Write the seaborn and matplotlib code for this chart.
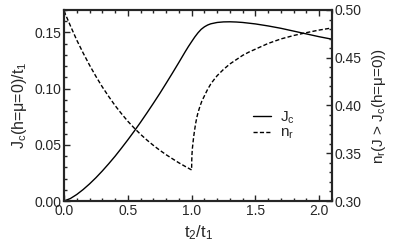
import numpy as np
import pandas as pd
import matplotlib
matplotlib.use("Agg")
import matplotlib.pyplot as plt
from matplotlib.ticker import MultipleLocator, FormatStrFormatter
from matplotlib.lines import Line2D
import seaborn as sns

# --- data ---
jc_x = [0.0, 0.05, 0.1, 0.15, 0.2, 0.25, 0.3, 0.35, 0.4, 0.45, 0.5, 0.55, 0.6,
        0.65, 0.7, 0.75, 0.8, 0.85, 0.9, 0.95, 0.975, 1.0, 1.025, 1.05, 1.075,
        1.1, 1.125, 1.15, 1.2, 1.25, 1.3, 1.35, 1.4, 1.5, 1.6, 1.7, 1.8, 1.9,
        2.0, 2.1]
jc_y = [0.0, 0.0022, 0.0058, 0.0102, 0.0152, 0.0207, 0.0267, 0.0331, 0.0398,
        0.0470, 0.0544, 0.0621, 0.0701, 0.0784, 0.0869, 0.0956, 0.1047, 0.1139,
        0.1233, 0.1329, 0.1375, 0.1418, 0.1460, 0.1497, 0.1528, 0.1550, 0.1566,
        0.1577, 0.1589, 0.1594, 0.1595, 0.1593, 0.1589, 0.1576, 0.1558, 0.1537,
        0.1512, 0.1487, 0.1462, 0.1440]

nr_x = [0.0, 0.05, 0.1, 0.15, 0.2, 0.25, 0.3, 0.35, 0.4, 0.45, 0.5, 0.55, 0.6,
        0.65, 0.7, 0.75, 0.8, 0.85, 0.9, 0.95, 1.0,
        1.001, 1.003, 1.006, 1.01, 1.015, 1.02, 1.03, 1.04, 1.05, 1.065, 1.08,
        1.1, 1.125, 1.15, 1.175, 1.2, 1.25, 1.3, 1.35, 1.4, 1.45, 1.5, 1.6,
        1.7, 1.8, 1.9, 2.0, 2.1]
nr_y = [0.499, 0.4835, 0.4685, 0.4550, 0.4423, 0.4305, 0.4195, 0.4095, 0.4000,
        0.3915, 0.3835, 0.3764, 0.3698, 0.3638, 0.3583, 0.3532, 0.3485, 0.3442,
        0.3400, 0.3362, 0.3325,
        0.3420, 0.3490, 0.3550, 0.3600, 0.3660, 0.3710, 0.3800, 0.3870, 0.3925,
        0.3990, 0.4045, 0.4100, 0.4168, 0.4225, 0.4270, 0.4312, 0.4378, 0.4435,
        0.4480, 0.4525, 0.4560, 0.4590, 0.4650, 0.4697, 0.4733, 0.4763, 0.4790,
        0.4812]

sns.set_style("ticks")
plt.rcParams['font.family'] = ['Liberation Sans', 'DejaVu Sans']
plt.rcParams['mathtext.fontset'] = 'custom'
plt.rcParams['mathtext.rm'] = 'Liberation Sans'
plt.rcParams['mathtext.it'] = 'Liberation Sans:italic'
plt.rcParams['mathtext.sf'] = 'Liberation Sans'
plt.rcParams['mathtext.default'] = 'rm'

fig = plt.figure(figsize=(3.95, 2.48), dpi=100)
ax = fig.add_axes([0.162, 0.1895, 0.6785, 0.7702])
ax2 = ax.twinx()

df_j = pd.DataFrame({"x": jc_x, "y": jc_y})
df_n = pd.DataFrame({"x": nr_x, "y": nr_y})

dash = (0, (3, 1.6))
sns.lineplot(data=df_j, x="x", y="y", ax=ax, color="black", lw=1.0, sort=False,
             legend=False)
sns.lineplot(data=df_n, x="x", y="y", ax=ax2, color="black", lw=1.0, sort=False,
             linestyle=dash, legend=False)

ax.set_xlim(0, 2.1)
ax.set_ylim(0, 0.17)
ax2.set_ylim(0.30, 0.50)

fs = 10
ax.xaxis.set_major_locator(MultipleLocator(0.5))
ax.xaxis.set_minor_locator(MultipleLocator(0.1))
ax.yaxis.set_major_locator(MultipleLocator(0.05))
ax.yaxis.set_minor_locator(MultipleLocator(0.01))
ax2.yaxis.set_major_locator(MultipleLocator(0.05))
ax2.yaxis.set_minor_locator(MultipleLocator(0.01))
ax.xaxis.set_major_formatter(FormatStrFormatter('%.1f'))
ax.yaxis.set_major_formatter(FormatStrFormatter('%.2f'))
ax2.yaxis.set_major_formatter(FormatStrFormatter('%.2f'))

ax.tick_params(axis='x', which='both', direction='in', top=True, bottom=True, labelsize=fs, pad=2)
ax.tick_params(axis='y', which='both', direction='in', left=True, right=False, labelsize=fs, pad=2)
ax2.tick_params(axis='y', which='both', direction='in', right=True, left=False, labelsize=fs, pad=2)
for a in (ax, ax2):
    a.tick_params(which='major', length=4, width=1.0)
    a.tick_params(which='minor', length=2, width=1.0)
    for s in a.spines.values():
        s.set_linewidth(1.5)

ax.set_xlabel("t$_2$/t$_1$", fontsize=12, labelpad=4)
ax.set_ylabel("J$_c$(h=$\\mu$=0)/t$_1$", fontsize=11.5, labelpad=4)
ax2.set_ylabel("n$_r$(J > J$_c$(h=$\\mu$=0))", fontsize=11, labelpad=6)

handles = [Line2D([], [], color='black', lw=1.0),
           Line2D([], [], color='black', lw=1.0, linestyle=dash)]
ax.legend(handles, ["J$_c$", "n$_r$"], loc='upper left', bbox_to_anchor=(0.665, 0.535),
          frameon=False, fontsize=11, handlelength=1.2, handletextpad=0.6,
          labelspacing=0.0, borderpad=0.2)

fig.savefig("out.png", dpi=100)
